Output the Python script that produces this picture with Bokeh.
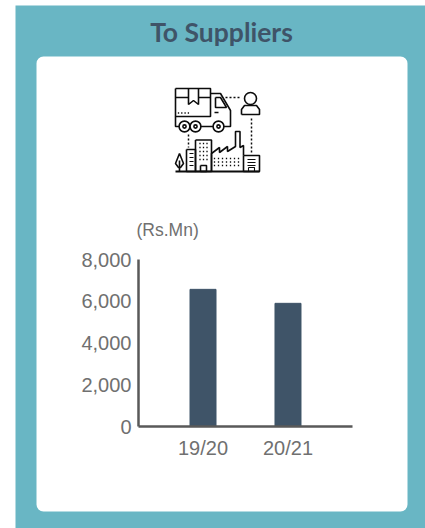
from bokeh.core.properties import value
from bokeh.embed import file_html
from bokeh.layouts import column
from bokeh.models import Range1d
from bokeh.plotting import figure
from bokeh.resources import INLINE

periods = ["19/20", "20/21"]
payments = [6570, 5900]
y_ticks = [0, 2000, 4000, 6000, 8000]
title_text = "To Suppliers"
unit_text = "(Rs.Mn)"

TEAL = "#69b6c4"
SLATE = "#3f5468"
AXIS = "#595959"
GREY = "#707070"
INK = "#0c0c0c"
W, H = 425, 528

# Backdrop figure: panel, card, headings and pictogram, in page pixels (y grows downward).
bg = figure(width=W, height=H, output_backend="svg", toolbar_location=None,
            x_range=Range1d(0, W), y_range=Range1d(H, 0),
            min_border=0, x_axis_type=None, y_axis_type=None, frame_align=False)
bg.outline_line_color = None
bg.grid.visible = False
bg.background_fill_color = "white"
bg.border_fill_color = "white"

bg.quad(left=[15], right=[W], top=[5], bottom=[H], fill_color=TEAL, line_color=None)
bg.rect(x=[221.5], y=[283.5], width=[371], height=[455], fill_color="white", line_color=None,
        border_radius=7)

bg.text(x=[221], y=[31], text=[title_text], text_font=value("Lato"), text_font_style="bold",
        text_font_size="26.5px", text_color=SLATE, text_align="center", text_baseline="middle")
bg.text(x=[136], y=[229], text=[unit_text], text_font=value("Liberation Sans"),
        text_font_size="17.5px", text_color=GREY, text_align="left", text_baseline="middle")


def shape(points, width=1.6):
    bg.line([a for a, _ in points] + [points[0][0]], [b for _, b in points] + [points[0][1]],
            line_color=INK, line_width=width)


def path(points, width=1.6):
    bg.line([a for a, _ in points], [b for _, b in points], line_color=INK, line_width=width)


def ring(cx, cy, r, width=1.6):
    bg.circle(x=[cx], y=[cy], radius=r, fill_color="white", line_color=INK, line_width=width)


def dots(x0, y0, x1, y1):
    bg.line([x0, x1], [y0, y1], line_color=INK, line_width=1.5, line_dash="2 2")


def grid_dots(xs, ys):
    bg.rect(x=[x for x in xs for _ in ys], y=[y for _ in xs for y in ys],
            width=1.3, height=1.3, fill_color=INK, line_color=None)


# truck
shape([(175, 88), (210, 88), (210, 116), (175, 116)])
path([(175, 97), (188, 97)])
path([(198, 97), (210, 97)])
path([(188, 88), (188, 104), (193, 100), (198, 104), (198, 88)])
path([(210, 93), (220, 93), (230, 110), (230, 126), (223, 126)])
path([(175, 116), (175, 126), (179, 126)])
path([(200, 126), (213, 126)])
shape([(215, 97), (220, 97), (226, 107), (215, 107)])
path([(214, 112), (218, 112)])
for cx in (184, 195, 218):
    ring(cx, 126, 5.4)
    ring(cx, 126, 1.6)
grid_dots([178, 181.3, 184.6, 187.9], [112.5])

# customer
ring(250, 98, 6)
shape([(241, 114), (241, 109), (244, 105), (256, 105), (259, 109), (259, 114)])
dots(225, 97, 241, 97)
dots(251, 118, 251, 153)
dots(188, 134, 188, 147)

# city block
path([(175, 171), (259, 171)], 1.9)
shape([(179, 153), (183, 163), (180, 167), (178, 167), (175, 163)])
path([(179, 160), (179, 171)])
shape([(186, 149), (195, 149), (195, 171), (186, 171)])
for y in (153, 157, 161, 165):
    path([(189, y), (193, y)], 1.1)
shape([(195, 139.5), (211, 139.5), (211, 171), (195, 171)])
shape([(200, 165), (206, 165), (206, 171), (200, 171)])
grid_dots([199.5, 203, 206.5], [143, 147, 151, 155, 159])
path([(211, 171), (211, 153), (219, 147), (219, 152), (227, 146), (227, 151), (235, 146),
      (235, 131), (239.5, 131), (239.5, 147), (243, 145), (243, 155)])
grid_dots([214, 218, 222, 226, 230, 234, 238], [158, 161.5, 165])
shape([(243, 155), (259, 155), (259, 171), (243, 171)])
for y in (159, 162, 165):
    path([(247, y), (255, y)], 1.1)
shape([(248, 167), (254, 167), (254, 171), (248, 171)], 1.1)

# Bar chart, laid transparently over the backdrop.
p = figure(
    width=W, height=H, output_backend="svg", toolbar_location=None,
    x_range=periods, y_range=(0, 8000),
    min_border_left=138, min_border_right=73, min_border_top=259, min_border_bottom=102,
    margin=(-H, 0, 0, 0), frame_align=False,
)
p.x_range.range_padding = 0.259
p.background_fill_color = None
p.border_fill_color = None
p.outline_line_color = None
p.grid.visible = False

p.vbar(x=periods, top=payments, width=0.306, color=SLATE)

for ax in (p.xaxis[0], p.yaxis[0]):
    ax.axis_line_color = AXIS
    ax.axis_line_width = 2.5
    ax.major_tick_line_color = None
    ax.minor_tick_line_color = None
    ax.major_label_text_color = GREY
    ax.major_label_text_font = "Liberation Sans"
    ax.major_label_text_font_size = "20px"
p.yaxis[0].ticker = y_ticks
p.yaxis[0].major_label_overrides = {t: f"{t:,}" for t in y_ticks}
p.yaxis[0].major_label_standoff = 1
p.xaxis[0].major_label_standoff = 4

page = column(bg, p, spacing=0)
open("out.html", "w").write(file_html(page, INLINE))
